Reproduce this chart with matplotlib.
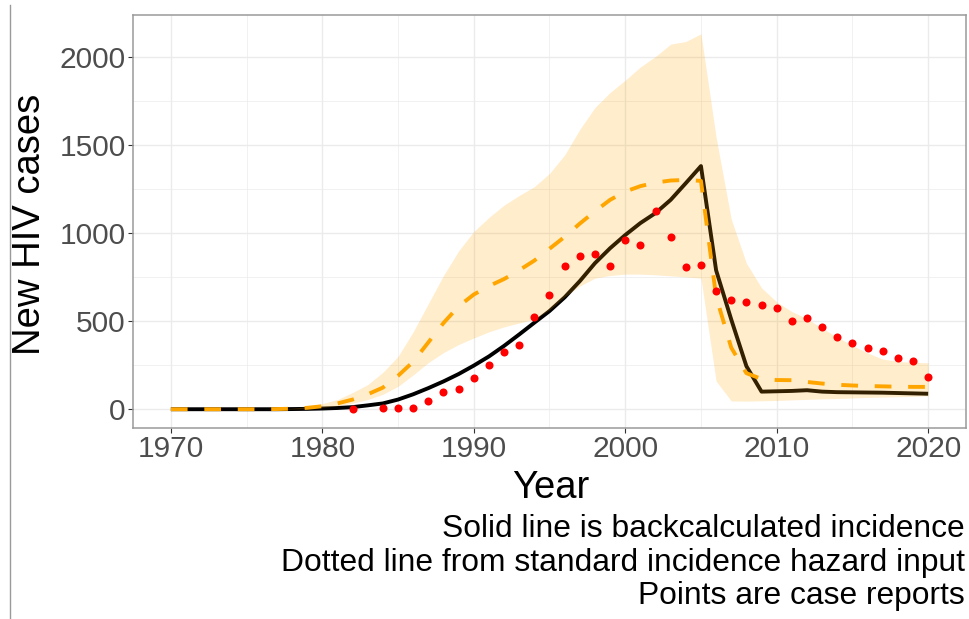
import matplotlib
matplotlib.use("Agg")
import matplotlib.pyplot as plt
from matplotlib.lines import Line2D
import numpy as np

plt.rcParams['font.family'] = ['Liberation Sans', 'DejaVu Sans']

years = list(range(1970, 2021))

# backcalculated incidence (solid line)
backcalc = [0, 0, 0, 0, 0, 0, 0, 0, 1, 2,
            4, 7, 12, 22, 33, 55, 85, 120, 158, 200,
            248, 300, 360, 425, 492, 558, 636, 728, 830, 915,
            990, 1058, 1115, 1190, 1285, 1382, 790, 510, 245, 100,
            102, 104, 108, 100, 97, 96, 95, 94, 92, 90,
            88]

# standard incidence hazard input (dashed line)
standard = [0, 0, 0, 0, 0, 0, 0, 1, 3, 8,
            17, 33, 55, 85, 123, 190, 270, 380, 490, 585,
            652, 700, 740, 790, 845, 912, 980, 1055, 1125, 1190,
            1237, 1268, 1288, 1300, 1303, 1298, 640, 350, 205, 172,
            166, 165, 155, 146, 139, 135, 132, 130, 128, 127,
            127]

# uncertainty band around the standard input
band_upper = [0, 0, 0, 0, 0, 0, 0, 2, 6, 15,
              32, 55, 95, 140, 210, 300, 440, 600, 760, 900,
              1010, 1090, 1160, 1215, 1265, 1340, 1445, 1590, 1715, 1800,
              1870, 1945, 2005, 2075, 2090, 2134, 1545, 1080, 830, 690,
              610, 555, 515, 460, 410, 362, 320, 285, 272, 266,
              264]
band_lower = [0, 0, 0, 0, 0, 0, 0, 0, 1, 4,
              10, 20, 35, 55, 85, 130, 195, 265, 322, 368,
              405, 440, 468, 490, 512, 565, 640, 700, 745, 760,
              768, 768, 764, 758, 752, 745, 160, 47, 46, 48,
              50, 53, 56, 59, 61, 64, 67, 69, 71, 73,
              76]

# case reports (points)
case_years = [1982, 1984, 1985, 1986, 1987, 1988, 1989, 1990, 1991, 1992,
              1993, 1994, 1995, 1996, 1997, 1998, 1999, 2000, 2001, 2002,
              2003, 2004, 2005, 2006, 2007, 2008, 2009, 2010, 2011, 2012,
              2013, 2014, 2015, 2016, 2017, 2018, 2019, 2020]
case_reports = [2, 7, 8, 8, 47, 100, 117, 178, 251, 325,
                366, 523, 650, 816, 871, 884, 812, 963, 933, 1124,
                980, 806, 822, 670, 618, 610, 595, 576, 499, 517,
                468, 412, 376, 349, 330, 289, 272, 185]

x_ticks = [1970, 1980, 1990, 2000, 2010, 2020]
y_ticks = [0, 500, 1000, 1500, 2000]

W, H = 969, 619
fig = plt.figure(figsize=(W / 100, H / 100), dpi=100)
fig.patch.set_facecolor('white')
ax = fig.add_axes([133 / W, 1 - 428 / H, (966 - 133) / W, (428 - 15) / H])

ax.plot(years, backcalc, color='black', lw=2.8, zorder=3, solid_capstyle='butt')
ax.fill_between(years, band_lower, band_upper, color='orange', alpha=0.2,
                linewidth=0, zorder=4)
ax.plot(years, standard, color='orange', lw=2.8, dashes=(4.3, 4.3), zorder=5)
ax.plot(case_years, case_reports, linestyle='none', marker='o', markersize=5.8,
        color='red', markeredgewidth=0, zorder=6)

ax.set_xlim(1967.5, 2022.5)
ax.set_ylim(-106.7, 2240.7)
ax.set_xticks(x_ticks)
ax.set_yticks(y_ticks)
ax.set_xticks([1975, 1985, 1995, 2005, 2015], minor=True)
ax.set_yticks([250, 750, 1250, 1750], minor=True)
ax.grid(which='major', color='#EBEBEB', lw=1.0, zorder=0)
ax.grid(which='minor', color='#EBEBEB', lw=0.5, zorder=0)
ax.set_axisbelow(True)
ax.tick_params(which='major', length=3.3, width=0.8, color='#333333',
               labelsize=21.5, labelcolor='#4D4D4D', pad=2)
ax.tick_params(which='minor', length=0)
for s in ax.spines.values():
    s.set_color('#9A9A9A')
    s.set_linewidth(1.1)

fig.text(30 / W, 1 - 224 / H, 'New HIV cases', rotation=90, ha='center',
         va='center', fontsize=27.5, color='black')
fig.text(551 / W, 1 - 498 / H, 'Year', ha='center', va='baseline',
         fontsize=27.5, color='black')
caption = ['Solid line is backcalculated incidence',
           'Dotted line from standard incidence hazard input',
           'Points are case reports']
for line, yb in zip(caption, [537, 570.5, 604]):
    fig.text(965 / W, 1 - yb / H, line, ha='right', va='baseline',
             fontsize=22.9, color='black')

fig.add_artist(Line2D([9.5 / W, 9.5 / W], [0, 1 - 5 / H],
                      transform=fig.transFigure, color='#9A9A9A', lw=1.0))

fig.savefig('out.png', dpi=100)
